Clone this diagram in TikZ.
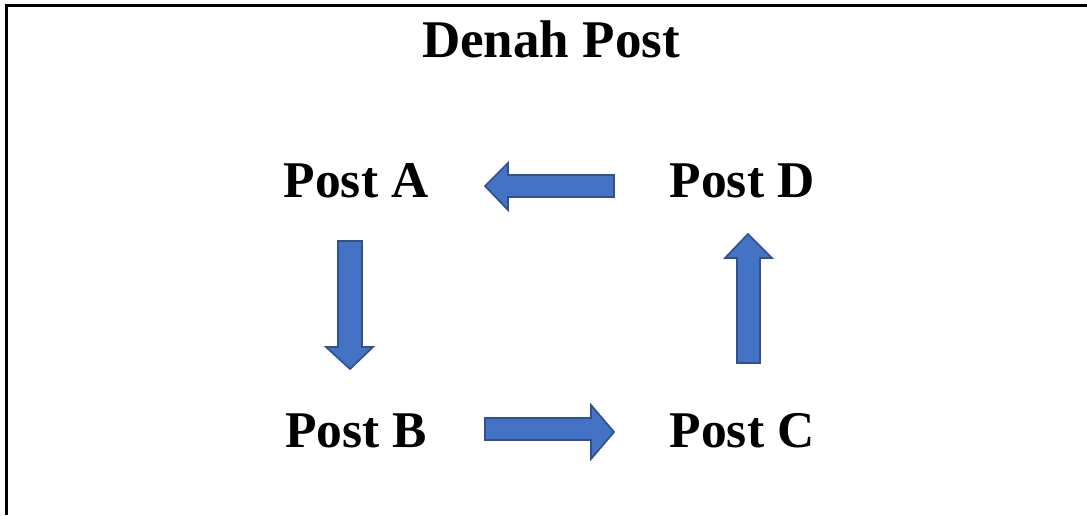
\documentclass[tikz,border=0pt]{standalone}
\usepackage{fontspec}
\setmainfont{Liberation Serif}
\begin{document}
\begin{tikzpicture}[x=1pt,y=-1pt,
  lbl/.style={font=\fontsize{51.5}{60}\selectfont\bfseries, anchor=base, inner sep=0pt},
  ttl/.style={font=\fontsize{53}{60}\selectfont\bfseries, anchor=base, inner sep=0pt},
  blockarrow/.style={fill={rgb,255:red,68;green,114;blue,196}, draw={rgb,255:red,47;green,82;blue,143}, line width=1.7pt, line join=miter},
  frame/.style={line width=3pt}]
\useasboundingbox (0,0) rectangle (1087,515);
% frame (top and left edges)
\draw[frame] (6,515) -- (6,5) -- (1087,5);
% texts
\node[ttl] (title) at (551,57) {Denah Post};
\node[lbl] (A) at (356,197) {Post A};
\node[lbl] (D) at (742,197) {Post D};
\node[lbl] (B) at (356,447) {Post B};
\node[lbl] (C) at (742,447) {Post C};
% D -> A (left)
\draw[blockarrow] (614,175) -- (508,175) -- (508,163) -- (485,186) -- (508,210) -- (508,197) -- (614,197) -- cycle;
% A -> B (down)
\draw[blockarrow] (338,241) -- (362,241) -- (362,347) -- (373,347) -- (350,369) -- (326,347) -- (338,347) -- cycle;
% B -> C (right)
\draw[blockarrow] (485,418) -- (591,418) -- (591,405) -- (614,432) -- (591,459) -- (591,440) -- (485,440) -- cycle;
% C -> D (up)
\draw[blockarrow] (737,363) -- (760,363) -- (760,258) -- (772,258) -- (748,234) -- (725,258) -- (737,258) -- cycle;
\end{tikzpicture}
\end{document}
